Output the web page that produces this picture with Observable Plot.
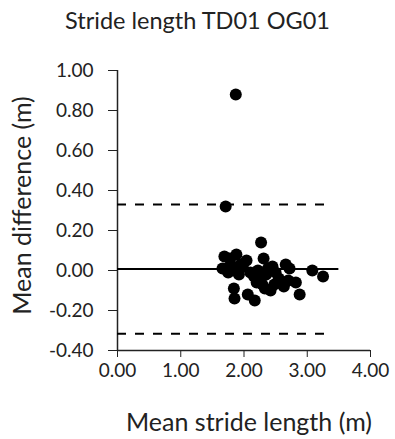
<!DOCTYPE html>
<html>
<head>
<meta charset="utf-8">
<script src="https://cdn.jsdelivr.net/npm/d3@7"></script>
<script src="https://cdn.jsdelivr.net/npm/@observablehq/plot@0.6"></script>
<style>
  html, body { margin: 0; padding: 0; background: #fff; }
  #title { width: 395px; height: 40px; text-align: center; font-family: Lato, "Open Sans", sans-serif; font-size: 23.5px; line-height: 40px; color: #222; box-sizing: border-box; }
</style>
</head>
<body>
<div id="title">Stride length TD01 OG01</div>
<div id="chart"></div>
<script>
const meanStride = [1.87, 1.71, 2.27, 1.69, 1.88, 1.78, 2.04, 1.66, 1.79, 1.92, 1.75, 1.85, 1.95, 2.31, 2.45, 2.66, 2.16, 2.29, 2.42, 2.55, 2.63, 2.82, 2.88, 3.08, 3.25, 1.84, 1.85, 2.06, 2.17, 2.22, 2.35, 2.50, 2.38, 2.60, 2.72, 2.20, 2.10, 2.48, 2.33, 1.98, 2.25, 2.70];
const meanDiff = [0.88, 0.32, 0.14, 0.07, 0.08, 0.06, 0.05, 0.01, 0.03, -0.02, -0.01, 0.00, 0.03, 0.06, 0.02, 0.03, -0.03, -0.07, -0.10, -0.04, -0.08, -0.06, -0.12, 0.00, -0.03, -0.09, -0.14, -0.12, -0.15, 0.00, -0.02, -0.01, 0.01, -0.06, 0.01, -0.06, -0.01, -0.07, -0.09, 0.02, -0.04, -0.05];
const biasLine = [0.007];
const limits = [0.330, -0.316];
const biasExtent = [0, 3.5];
const limitExtent = [0, 3.37];
const xTicks = [0, 1, 2, 3, 4];
const yTicks = [-0.4, -0.2, 0, 0.2, 0.4, 0.6, 0.8, 1.0];
const xLabel = ["Mean stride length (m)"];
const yLabel = ["Mean difference (m)"];

const points = meanStride.map((x, i) => ({x, y: meanDiff[i]}));

const chart = Plot.plot({
  width: 395,
  height: 399,
  marginTop: 30,
  marginLeft: 117,
  marginRight: 25,
  marginBottom: 89,
  style: { fontFamily: "Lato, 'Open Sans', sans-serif", fontSize: "19px", color: "#222", background: "#fff" },
  x: { domain: [0, 4] },
  y: { domain: [-0.4, 1.0] },
  marks: [
    Plot.axisY({ ticks: yTicks, tickFormat: d => d.toFixed(2), tickSize: 9, tickPadding: 15, stroke: "#222", label: null }),
    Plot.axisX({ ticks: xTicks, tickFormat: d => d.toFixed(2), tickSize: 7, tickPadding: 6, stroke: "#222", label: null }),
    Plot.text(xLabel, { frameAnchor: "bottom", textAnchor: "middle", dx: 5, dy: 72, fontSize: 25, lineAnchor: "middle", fill: "#222" }),
    Plot.text(yLabel, { frameAnchor: "left", textAnchor: "middle", dx: -95, dy: -5, rotate: -90, fontSize: 25, lineAnchor: "middle", fill: "#222" }),
    Plot.ruleX([0], { y1: -0.4, y2: 1.0, stroke: "#222", strokeWidth: 1.5 }),
    Plot.ruleY([-0.4], { x1: 0, x2: 4, stroke: "#222", strokeWidth: 1.5 }),
    Plot.ruleY(biasLine, { x1: biasExtent[0], x2: biasExtent[1], stroke: "#000", strokeWidth: 2 }),
    Plot.ruleY(limits, { x1: limitExtent[0], x2: limitExtent[1], stroke: "#000", strokeWidth: 2, strokeDasharray: "9,9" }),
    Plot.dot(points, { x: "x", y: "y", r: 6, fill: "#000", stroke: "none" })
  ]
});
document.getElementById("chart").appendChild(chart);
</script>
</body>
</html>
